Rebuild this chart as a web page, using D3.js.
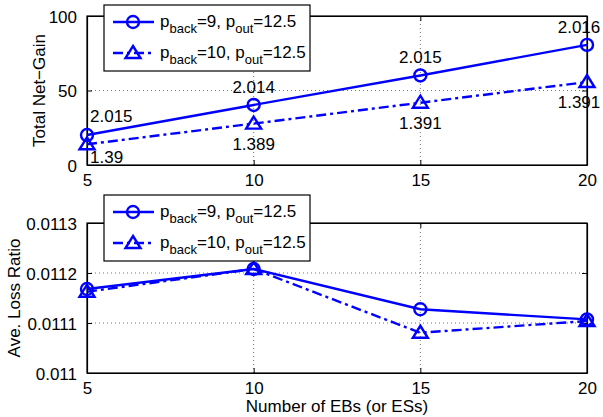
<!DOCTYPE html>
<html>
<head>
<meta charset="utf-8">
<script src="https://cdn.jsdelivr.net/npm/d3@7"></script>
<style>
  body { margin: 0; background: #fff; }
  text { font-family: "Liberation Sans", Arial, Helvetica, sans-serif; }
</style>
</head>
<body>
<div id="chart"></div>
<script>
var xValues = [5, 10, 15, 20];

var gainBack9  = [20.1, 40.3, 60.1, 80.6];
var gainBack10 = [13.9, 27.8, 41.8, 55.7];
var gainLabels9  = ["2.015", "2.014", "2.015", "2.016"];
var gainLabels10 = ["1.39", "1.389", "1.391", "1.391"];

var lossBack9  = [0.011168, 0.011208, 0.0111275, 0.0111072];
var lossBack10 = [0.0111626, 0.011208, 0.0110805, 0.011104];

var xTicks = [5, 10, 15, 20];
var gainTicks = [0, 50, 100];
var lossTicks = [0.011, 0.0111, 0.0112, 0.0113];
var legendNames = [["back", "9"], ["back", "10"]];

var width = 603, height = 417;
var blue = "#0000ff";
var fs = 17;
var lw = 2.4;

var svg = d3.select("#chart").append("svg")
    .attr("width", width)
    .attr("height", height);

var x = d3.scaleLinear().domain([5, 20]).range([87, 587]);

var yTop = d3.scaleLinear().domain([0, 100]).range([165, 16]);
var yBot = d3.scaleLinear().domain([0.011, 0.0113]).range([373, 223]);

function trianglePath() {
    return "M0,-7L7.5,5L-7.5,5Z";
}

function drawPanel(y, yTicks, yFormat, s1, s2, ylabel, labelX, legendTop) {
    var g = svg.append("g");
    var x0 = x.range()[0], x1 = x.range()[1];
    var yb = y.range()[0], yt = y.range()[1];

    // dotted grid
    g.selectAll(".gx").data(xTicks.slice(1, -1)).enter().append("line")
        .attr("x1", function(d) { return x(d); }).attr("x2", function(d) { return x(d); })
        .attr("y1", yb).attr("y2", yt)
        .style("stroke", "#777").style("stroke-width", 1).style("stroke-dasharray", "1,3");
    g.selectAll(".gy").data(yTicks.slice(1, -1)).enter().append("line")
        .attr("x1", x0).attr("x2", x1)
        .attr("y1", function(d) { return y(d); }).attr("y2", function(d) { return y(d); })
        .style("stroke", "#777").style("stroke-width", 1).style("stroke-dasharray", "1,3");

    // axes with inward ticks
    var xa = g.append("g").attr("transform", "translate(0," + yb + ")")
        .call(d3.axisBottom(x).tickValues(xTicks).tickSizeInner(-5).tickSizeOuter(0).tickPadding(9));
    var xa2 = g.append("g").attr("transform", "translate(0," + yt + ")")
        .call(d3.axisTop(x).tickValues(xTicks).tickSizeInner(-5).tickSizeOuter(0).tickFormat(""));
    var ya = g.append("g").attr("transform", "translate(" + x0 + ",0)")
        .call(d3.axisLeft(y).tickValues(yTicks).tickFormat(yFormat).tickSizeInner(-5).tickSizeOuter(0).tickPadding(10));
    var ya2 = g.append("g").attr("transform", "translate(" + x1 + ",0)")
        .call(d3.axisRight(y).tickValues(yTicks).tickSizeInner(-5).tickSizeOuter(0).tickFormat(""));
    [xa, xa2, ya, ya2].forEach(function(a) {
        a.selectAll("path").style("stroke", "#000").style("stroke-width", 1.2);
        a.selectAll("line").style("stroke", "#000");
        a.selectAll("text").style("font-size", fs + "px").style("fill", "#000")
            .style("font-family", "'Liberation Sans', Arial, sans-serif");
    });
    xa.selectAll("text").attr("dy", "0.71em");
    ya.selectAll("text").attr("dy", "0.36em");

    g.append("rect").attr("x", x0).attr("y", yt).attr("width", x1 - x0).attr("height", yb - yt)
        .style("fill", "none").style("stroke", "#000").style("stroke-width", 1.2);

    // y label
    g.append("text")
        .attr("transform", "translate(" + labelX + "," + ((yb + yt) / 2) + ") rotate(-90)")
        .attr("text-anchor", "middle")
        .style("font-size", fs + "px")
        .text(ylabel);

    var line = d3.line().x(function(d, i) { return x(xValues[i]); }).y(function(d) { return y(d); });

    g.append("path").datum(s2).attr("d", line)
        .style("fill", "none").style("stroke", blue).style("stroke-width", lw)
        .style("stroke-dasharray", "10,4,3,4");
    g.append("path").datum(s1).attr("d", line)
        .style("fill", "none").style("stroke", blue).style("stroke-width", lw);

    g.selectAll(".c").data(s1).enter().append("circle")
        .attr("cx", function(d, i) { return x(xValues[i]); })
        .attr("cy", function(d) { return y(d); })
        .attr("r", 6)
        .style("fill", "none").style("stroke", blue).style("stroke-width", lw);
    g.selectAll(".t").data(s2).enter().append("path")
        .attr("d", trianglePath())
        .attr("transform", function(d, i) { return "translate(" + x(xValues[i]) + "," + y(d) + ")"; })
        .style("fill", "none").style("stroke", blue).style("stroke-width", lw);

    // legend
    var lx = x0 + 17, lgw = 206, lgh = 66;
    var lg = g.append("g");
    lg.append("rect").attr("x", lx).attr("y", legendTop).attr("width", lgw).attr("height", lgh)
        .style("fill", "#fff").style("stroke", "#000").style("stroke-width", 1.2);
    legendNames.forEach(function(n, i) {
        var ry = legendTop + 17 + i * 31;
        lg.append("line").attr("x1", lx + 9).attr("x2", lx + 50).attr("y1", ry).attr("y2", ry)
            .style("stroke", blue).style("stroke-width", lw)
            .style("stroke-dasharray", i === 0 ? null : "10,4,3,4");
        if (i === 0) {
            lg.append("circle").attr("cx", lx + 29).attr("cy", ry).attr("r", 6)
                .style("fill", "none").style("stroke", blue).style("stroke-width", lw);
        } else {
            lg.append("path").attr("d", trianglePath())
                .attr("transform", "translate(" + (lx + 29) + "," + ry + ")")
                .style("fill", "none").style("stroke", blue).style("stroke-width", lw);
        }
        var t = lg.append("text").attr("x", lx + 56).attr("y", ry + 5).style("font-size", fs + "px");
        t.append("tspan").text("p");
        t.append("tspan").attr("dy", 6).style("font-size", "13px").text(n[0]);
        t.append("tspan").attr("dy", -6).text("=" + n[1] + ", p");
        t.append("tspan").attr("dy", 6).style("font-size", "13px").text("out");
        t.append("tspan").attr("dy", -6).text("=12.5");
    });
    return g;
}

var topPanel = drawPanel(yTop, gainTicks, d3.format("d"), gainBack9, gainBack10, "Total Net\u2212Gain", 45, 5);
var botPanel = drawPanel(yBot, lossTicks, function(d) { return String(+d.toFixed(4)); },
    lossBack9, lossBack10, "Ave. Loss Ratio", 20, 195);

// value annotations on top panel
function labelDx(i) { return i === 0 ? 3 : (i === 3 ? -8 : 0); }
topPanel.selectAll(".l9").data(gainBack9).enter().append("text")
    .attr("x", function(d, i) { return x(xValues[i]) + labelDx(i); })
    .attr("y", function(d, i) { return yTop(d) - (i === 0 ? 13 : 12); })
    .attr("text-anchor", function(d, i) { return i === 0 ? "start" : "middle"; })
    .style("font-size", fs + "px")
    .text(function(d, i) { return gainLabels9[i]; });
topPanel.selectAll(".l10").data(gainBack10).enter().append("text")
    .attr("x", function(d, i) { return x(xValues[i]) + labelDx(i); })
    .attr("y", function(d, i) { return yTop(d) + (i === 0 ? 19 : 26); })
    .attr("text-anchor", function(d, i) { return i === 0 ? "start" : "middle"; })
    .style("font-size", fs + "px")
    .text(function(d, i) { return gainLabels10[i]; });

svg.append("text")
    .attr("x", (x.range()[0] + x.range()[1]) / 2)
    .attr("y", 412)
    .attr("text-anchor", "middle")
    .style("font-size", fs + "px")
    .text("Number of EBs (or ESs)");
</script>
</body>
</html>
